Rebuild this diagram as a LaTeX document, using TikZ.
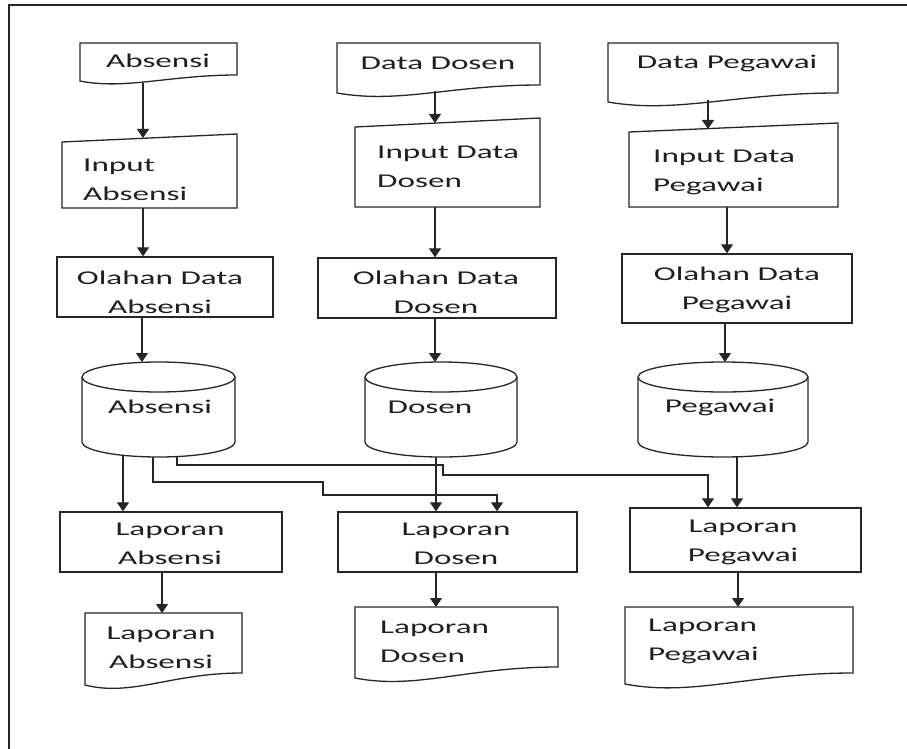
\documentclass[tikz,border=0pt]{standalone}
\usepackage{fontspec}
\setmainfont[FakeStretch=1.7]{Carlito}
\usetikzlibrary{arrows.meta}
\begin{document}
\begin{tikzpicture}[x=1pt,y=-1pt,
  shp/.style={draw=black!85,line width=1.3pt},
  ln/.style={draw=black!85,line width=1.2pt},
  arr/.style={draw=black!85,line width=1.2pt,-{Triangle[length=9pt,width=12pt]}},
  lbl/.style={inner sep=0pt,text=black!88,font=\fontsize{19.5}{29}\selectfont},
  boxn/.style={shp,inner sep=0pt,minimum width=#1},
]
\useasboundingbox (0,0) rectangle (907,749);
% frame
\draw[line width=1.5pt,black!85] (9,749) -- (9,5) -- (907,5);

% ---------- column 1 : Absensi ----------
\draw[shp] (80,43) -- (237,43) -- (237,75) .. controls (170,75) and (125,90) .. (80,81) -- cycle;
\node[lbl] (tA) at (158,61) {Absensi};
\coordinate (cA1) at (143,83);
\draw[shp] (62,142) -- (237,134) -- (237,208) -- (62,208) -- cycle;
\node[lbl,anchor=west,align=left] (tIA) at (83,180) {Input\\Absensi};
\coordinate (cA2t) at (143,138);
\coordinate (cA2b) at (143,208);
\node[boxn=216pt,minimum height=60pt] (oA) at (165,287) {};
\node[lbl,align=center] (toA) at (160,292) {Olahan Data\\Absensi};
\draw[shp] (82,377) -- (82,442) arc[start angle=180,end angle=360,x radius=76.5pt,y radius=15pt] -- (235,377);
\draw[shp] (158.5,377) ellipse[x radius=76.5pt,y radius=15pt];
\node[lbl] (tdA) at (160,407) {Absensi};
\coordinate (cA3t) at (142,362);
\coordinate (cA3a) at (123,455);
\coordinate (cA3b) at (153,457);
\coordinate (cA3c) at (177,456.5);
\node[boxn=222pt,minimum height=60pt] (lA) at (171,542) {};
\node[lbl,align=center] (tlA) at (170,544) {Laporan\\Absensi};
\draw[shp] (85,613) -- (242,613) -- (242,673) .. controls (171,673) and (132,697) .. (85,685) -- cycle;
\node[lbl,align=center] (trA) at (161,648) {Laporan\\Absensi};
\coordinate (cA4t) at (162,613);

% ---------- column 2 : Dosen ----------
\draw[shp] (337,43) -- (540,43) -- (540,85) .. controls (450,85) and (400,104) .. (337,93) -- cycle;
\node[lbl] (tD) at (438,63) {Data Dosen};
\coordinate (cD1) at (435,91);
\draw[shp] (355,127) -- (540,118) -- (540,207) -- (355,207) -- cycle;
\node[lbl,anchor=west,align=left] (tID) at (377,167) {Input Data\\Dosen};
\coordinate (cD2t) at (435,123);
\coordinate (cD2b) at (435,207);
\node[boxn=238pt,minimum height=60pt] (oD) at (437,288) {};
\node[lbl,align=center] (toD) at (436,292) {Olahan Data\\Dosen};
\draw[shp] (365,377) -- (365,442) arc[start angle=180,end angle=360,x radius=76pt,y radius=15pt] -- (517,377);
\draw[shp] (441,377) ellipse[x radius=76pt,y radius=15pt];
\node[lbl] (tdD) at (430,407) {Dosen};
\coordinate (cD3t) at (435,362);
\coordinate (cD3b) at (436,457);
\node[boxn=239pt,minimum height=60pt] (lD) at (457.5,542) {};
\node[lbl,align=center] (tlD) at (456,544) {Laporan\\Dosen};
\draw[shp] (355,607) -- (558,607) -- (558,667) .. controls (467,667) and (416,690) .. (355,678) -- cycle;
\node[lbl,anchor=west,align=left] (trD) at (380,642) {Laporan\\Dosen};
\coordinate (cD4t) at (436,607);

% ---------- column 3 : Pegawai ----------
\draw[shp] (608,43) -- (838,43) -- (838,93) .. controls (735,93) and (677,114) .. (608,102) -- cycle;
\node[lbl] (tP) at (727,63) {Data Pegawai};
\coordinate (cP1) at (708,100);
\draw[shp] (629,132) -- (838,123) -- (838,207) -- (629,207) -- cycle;
\node[lbl,anchor=west,align=left] (tIP) at (653,172) {Input Data\\Pegawai};
\coordinate (cP2t) at (708,129);
\coordinate (cP2b) at (727,207);
\node[boxn=230pt,minimum height=69pt] (oP) at (737,288.5) {};
\node[lbl,align=center] (toP) at (737,290) {Olahan Data\\Pegawai};
\draw[shp] (638,377) -- (638,442) arc[start angle=180,end angle=360,x radius=85pt,y radius=15pt] -- (808,377);
\draw[shp] (723,377) ellipse[x radius=85pt,y radius=15pt];
\node[lbl] (tdP) at (720,407) {Pegawai};
\coordinate (cP3t) at (725,362);
\coordinate (cP3b) at (737,457);
\node[boxn=231pt,minimum height=64pt] (lP) at (745.5,540) {};
\node[lbl,align=center] (tlP) at (743,542) {Laporan\\Pegawai};
\draw[shp] (625,607) -- (853,607) -- (853,673) .. controls (750,673) and (693,697) .. (625,684) -- cycle;
\node[lbl,anchor=west,align=left] (trP) at (648,641) {Laporan\\Pegawai};
\coordinate (cP4t) at (738,607);

% ---------- connectors ----------
\draw[arr] (cA1) -- (cA2t);
\draw[arr] (cA2b) -- (oA.north -| cA2b);
\draw[arr] (oA.south -| cA3t) -- (cA3t);
\draw[arr] (cA3a) -- (lA.north -| cA3a);
\draw[arr] (lA.south -| cA4t) -- (cA4t);

\draw[arr] (cD1) -- (cD2t);
\draw[arr] (cD2b) -- (oD.north -| cD2b);
\draw[arr] (oD.south -| cD3t) -- (cD3t);
\draw[arr] (cD3b) -- (lD.north -| cD3b);
\draw[arr] (lD.south -| cD4t) -- (cD4t);

\draw[arr] (cP1) -- (cP2t);
\draw[arr] (cP2b) -- (oP.north -| cP2b);
\draw[arr] (oP.south -| cP3t) -- (cP3t);
\draw[arr] (cP3b) -- (lP.north -| cP3b);
\draw[arr] (lP.south -| cP4t) -- (cP4t);

% cross connectors from Absensi store
\coordinate (xD) at (497,495);
\coordinate (xP) at (708,475);
\draw[arr] (cA3b) -- (153,482) -- (323,482) -- (323,495) -- (xD) -- (lD.north -| xD);
\draw[arr] (cA3c) -- (177,465) -- (443,465) -- (443,475) -- (xP) -- (lP.north -| xP);
\end{tikzpicture}
\end{document}
